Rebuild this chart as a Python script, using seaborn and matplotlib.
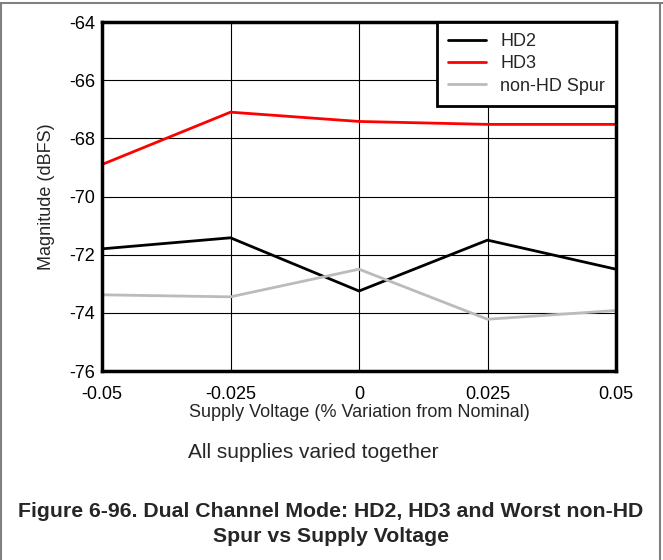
import matplotlib
matplotlib.use("Agg")
import matplotlib.pyplot as plt
import seaborn as sns
import pandas as pd
from matplotlib.lines import Line2D

# Supply variation sweep (% from nominal) and measured spur levels (dBFS)
supply_variation = [-0.05, -0.025, 0.0, 0.025, 0.05]
hd2 = [-71.8, -71.42, -73.25, -71.5, -72.5]
hd3 = [-68.9, -67.1, -67.42, -67.52, -67.52]
non_hd_spur = [-73.38, -73.45, -72.5, -74.22, -73.92]

series_names = ["HD2", "HD3", "non-HD Spur"]
series_colors = ["#000000", "#ff0000", "#bbbbbb"]
x_ticks = [-0.05, -0.025, 0, 0.025, 0.05]
x_tick_labels = ["-0.05", "-0.025", "0", "0.025", "0.05"]
y_ticks = [-76, -74, -72, -70, -68, -66, -64]

df = pd.DataFrame({
    "x": supply_variation * 3,
    "y": hd2 + hd3 + non_hd_spur,
    "series": [n for n in series_names for _ in supply_variation],
})

sns.set_style("white")
plt.rcParams["font.family"] = ["Liberation Sans", "DejaVu Sans"]
plt.rcParams["axes.unicode_minus"] = False

fig = plt.figure(figsize=(6.63, 5.60), dpi=100)
ax = fig.add_axes([102 / 663, 1 - 371 / 560, (616 - 102) / 663, (371 - 22) / 560])

sns.lineplot(data=df, x="x", y="y", hue="series", hue_order=series_names,
             palette=series_colors, linewidth=2.0, ax=ax, legend=False,
             zorder=3)

ax.set_xlim(-0.05, 0.05)
ax.set_ylim(-76, -64)
ax.set_xticks(x_ticks)
ax.set_xticklabels(x_tick_labels)
ax.set_yticks(y_ticks)
ax.grid(True, color="black", linewidth=0.8)
ax.tick_params(axis="y", length=0, labelsize=13, pad=5, colors="black")
ax.tick_params(axis="x", length=0, labelsize=13, pad=10.5, colors="black")
for s in ax.spines.values():
    s.set_linewidth(2.5)
    s.set_color("black")
    s.set_zorder(5)

ax.set_xlabel("Supply Voltage (% Variation from Nominal)", fontsize=13, labelpad=1)
ax.set_ylabel("Magnitude (dBFS)", fontsize=13, labelpad=10)

handles = [Line2D([], [], color=c, linewidth=2.0) for c in series_colors]
leg = ax.legend(handles, series_names, loc="upper right", bbox_to_anchor=(1.0, 1.0),
                borderaxespad=0, frameon=True, fancybox=False, framealpha=1,
                fontsize=13, handlelength=2.1, handletextpad=0.8,
                labelspacing=0.3, borderpad=0.6)
leg.get_frame().set_edgecolor("black")
leg.get_frame().set_linewidth(2.0)
leg.set_zorder(6)

fig.text(313 / 663, 1 - 453 / 560, "All supplies varied together",
         ha="center", va="center", fontsize=15)
fig.text(331 / 663, 1 - 524 / 560,
         "Figure 6-96. Dual Channel Mode: HD2, HD3 and Worst non-HD\nSpur vs Supply Voltage",
         ha="center", va="center", fontsize=15.3, fontweight="bold", linespacing=1.35)

# thin gray frame around the figure (top, left, right)
for xs, ys in [([0, 1], [1 - 3 / 560] * 2), ([1 / 663] * 2, [0, 1 - 3 / 560]),
               ([1 - 3 / 663] * 2, [0, 1 - 3 / 560])]:
    fig.add_artist(Line2D(xs, ys, color="#808080", linewidth=1.5, transform=fig.transFigure))

fig.savefig("out.png", dpi=100)
